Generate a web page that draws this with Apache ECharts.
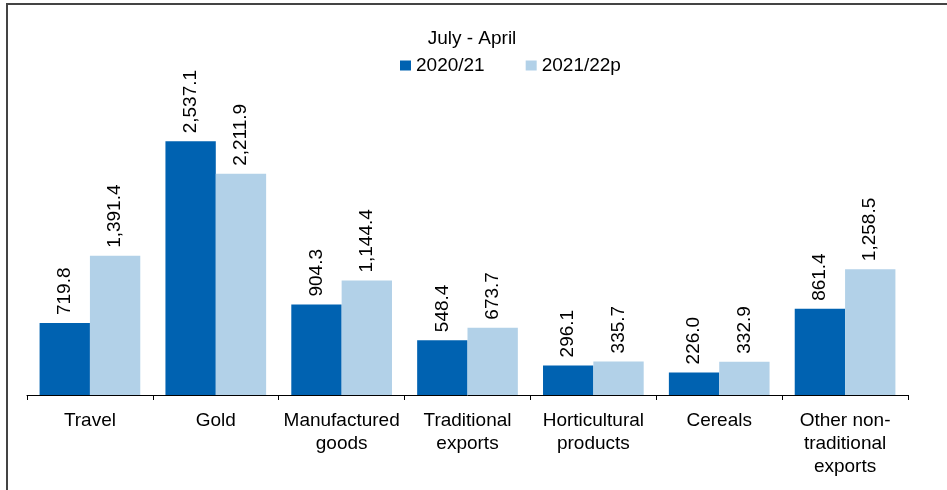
<!DOCTYPE html>
<html>
<head>
<meta charset="utf-8">
<script src="https://cdn.jsdelivr.net/npm/echarts@6/dist/echarts.min.js"></script>
<style>
html,body{margin:0;padding:0;background:#fff;}
#c{width:947px;height:490px;}
</style>
</head>
<body>
<div id="c"></div>
<script>
const categories = ['Travel', 'Gold', 'Manufactured\ngoods', 'Traditional\nexports', 'Horticultural\nproducts', 'Cereals', 'Other non-\ntraditional\nexports'];
const series2020 = [719.8, 2537.1, 904.3, 548.4, 296.1, 226.0, 861.4];
const series2021 = [1391.4, 2211.9, 1144.4, 673.7, 335.7, 332.9, 1258.5];
const seriesNames = ['2020/21', '2021/22p'];
const legendTitle = 'July - April';

const font = 'Liberation Sans, Arial, Helvetica, sans-serif';
const fs = 19;
const fmt = v => v.toLocaleString('en-US', {minimumFractionDigits: 1, maximumFractionDigits: 1});

const chart = echarts.init(document.getElementById('c'), null, {renderer: 'canvas'});
const labelCfg = {
  show: true,
  position: 'top',
  rotate: 90,
  align: 'left',
  verticalAlign: 'middle',
  distance: 8,
  color: '#000',
  fontSize: fs,
  fontFamily: font,
  formatter: p => fmt(p.value)
};
chart.setOption({
  animation: false,
  backgroundColor: '#fff',
  title: {
    text: legendTitle,
    left: 472,
    top: 29,
    textAlign: 'center',
    padding: 0,
    textStyle: {fontSize: fs, fontWeight: 'normal', color: '#000', fontFamily: font}
  },
  legend: {
    data: seriesNames,
    left: 400,
    top: 56,
    padding: 0,
    itemWidth: 11,
    itemHeight: 10,
    itemGap: 41,
    icon: 'rect',
    textStyle: {fontSize: fs, color: '#000', fontFamily: font}
  },
  grid: {left: 27, right: 39, top: 45, bottom: 95, containLabel: false},
  xAxis: {
    type: 'category',
    data: categories,
    axisLine: {lineStyle: {color: '#000', width: 1}},
    axisTick: {show: true, length: 5, lineStyle: {color: '#000'}},
    axisLabel: {interval: 0, margin: 14, fontSize: fs, lineHeight: 23, color: '#000', fontFamily: font}
  },
  yAxis: {
    type: 'value',
    min: 0,
    max: 3500,
    show: false,
    splitLine: {show: false}
  },
  series: [
    {name: seriesNames[0], type: 'bar', data: series2020, barGap: '0%', barCategoryGap: '20%',
     itemStyle: {color: '#0062B1'}, label: labelCfg},
    {name: seriesNames[1], type: 'bar', data: series2021, barGap: '0%', barCategoryGap: '20%',
     itemStyle: {color: '#B2D1E8'}, label: labelCfg}
  ],
  graphic: [{
    type: 'rect',
    shape: {x: 7, y: 4, width: 1100, height: 1100},
    style: {fill: 'none', stroke: '#444', lineWidth: 2},
    silent: true
  }]
});
</script>
</body>
</html>
